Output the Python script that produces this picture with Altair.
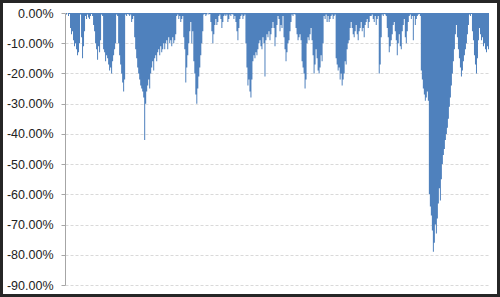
import altair as alt
import pandas as pd

# Drawdown values (in %), left to right
dd_part1 = [0, -0.5, 0, -1, -0.3,
            -5, -7, -6, -9, -11, -10, -12, -14, -13, -10,
            -0.5,
            -8, -15, -11, -6,
            -1, -2, -0.5, -1.5, -2, -1, -0.3, -1,
            -4, -6, -10, -12, -15.5, -11, -13, -9,
            -0.5, -1,
            -12, -13, -16, -14, -15, -17, -19, -18, -20, -16, -14, -12, -10,
            -0.5, -1,
            -10, -14, -17, -20, -23, -26, -22,
            -0.5, -1, -0.3, -0.5, -1, -0.5, -3, -2, -1]
dd_part2 = [-8, -12, -15, -18, -20, -22, -24, -25, -26, -28, -42, -30, -26, -24,
            -22, -25, -20,
            -18, -16, -19, -15, -14, -16, -13,
            -12, -14, -11, -13, -12, -10, -12,
            -10, -9, -12, -8, -10, -9, -11, -8, -10, -9, -7,
            -1, -0.5, -2, -1,
            -3, -2, -1,
            -8, -12, -23, -18, -14, -10, -6, -3,
            -10, -6,
            -16, -20, -27, -30, -25, -21, -18, -14, -10, -6]
dd_part3 = [-0.5, -0.3, -1, -0.5, 0, -0.5, -0.3,
            -3, -6, -10, -7, -4,
            -2, -4, -3, -1, -0.5, -2, -5, -3, -1, -0.5, -1, -0.5, -3, -2, -0.5, -1, -0.3, -0.5,
            -2, -1, -3,
            -6, -9, -5, -2,
            -1, -0.5, -2, -1, -0.5,
            -10, -18, -24, -22, -26, -28, -22,
            -16, -14, -15, -13, -14, -12,
            -10, -9, -11, -12, -8, -10, -21,
            -9, -7, -8, -6, -9, -7, -5, -3]
dd_part4 = [-5, -11, -8, -4, -1,
            -2, -6, -4, -5, -1,
            -8, -12, -16, -13, -10, -9, -6, -3,
            -0.5, -1, -0.3, -0.5,
            -5, -7, -9, -8, -7, -9,
            -16, -18, -20, -25, -22,
            -10, -8, -9, -7, -5,
            -9, -14, -20, -17, -12, -15, -19, -20,
            -18, -14, -16, -10,
            -1, -2, -0.5, -3, -1, -3, -2, -1, -0.5, -2, -1, -0.5]
dd_part5 = [-15, -17, -19, -18, -22, -20, -24, -22, -20, -16, -17, -12, -10, -9, -5,
            -3, -5, -7, -8, -6, -4, -7, -9, -6, -5, -3, -6, -5, -8, -4, -3, -2, -5, -3, -1,
            -1, -0.5, -2, -3, -1, -4, -2, -1,
            -20, -17, -8,
            -0.5, -1, -0.3, -0.5, -1,
            -5, -8, -13, -11, -9, -7, -4,
            -3, -6, -9, -14, -10, -7, -11, -12, -6, -4, -2,
            -8, -10, -6, -3,
            -1, -0.5, -2, -1, -9, -1, -4, -2, -1, -0.5, -0.3, -1]
dd_part6 = [-19, -22, -25, -27, -29, -28, -26, -29,
            -60, -64, -67,
            -72, -79, -76, -70,
            -73, -68, -63, -58, -62, -55,
            -50, -47, -45, -42,
            -40, -38, -35, -31, -28, -24, -20, -16, -12, -7, -4,
            -8, -12, -15, -18, -21, -19, -16, -14, -12, -10, -7, -4,
            -0.5, -1, -0.3,
            -6, -9, -14, -17, -20, -15, -9,
            -5, -7, -9, -8, -11, -10, -12, -13, -11, -12, -13]

y_ticks = [0, -0.1, -0.2, -0.3, -0.4, -0.5, -0.6, -0.7, -0.8, -0.9]

values = dd_part1 + dd_part2 + dd_part3 + dd_part4 + dd_part5 + dd_part6
df = pd.DataFrame({"i": list(range(len(values))), "dd": [v / 100 for v in values]})

W, H = 424, 272

area = alt.Chart(df).mark_area(color="#4F81BD", interpolate="step-after").encode(
    x=alt.X("i:Q", axis=None, scale=alt.Scale(domain=[0, len(values) - 1], nice=False, zero=False)),
    y=alt.Y(
        "dd:Q",
        title=None,
        scale=alt.Scale(domain=[-0.9, 0], nice=False),
        axis=alt.Axis(
            values=y_ticks,
            labelExpr="replace(format(datum.value, '.2%'), '\u2212', '-')",
            grid=True,
            gridColor="#d9d9d9",
            gridDash=[3, 2],
            gridWidth=1,
            domainColor="#a6a6a6",
            tickColor="#a6a6a6",
            tickSize=4,
            labelPadding=8,
            labelFont="Liberation Sans",
            labelFontSize=12.5,
            labelColor="#222222",
        ),
    ),
)

frame = alt.Chart(alt.Data(values=[{}])).mark_rect(
    filled=False, stroke="#262626", strokeWidth=3
).encode(
    x=alt.value(-63.5), x2=alt.value(433.5), y=alt.value(-11.5), y2=alt.value(282.5)
)

chart = alt.layer(area, frame).properties(
    width=W,
    height=H,
    autosize=alt.AutoSizeParams(type="none"),
    padding={"left": 65, "top": 13, "right": 11, "bottom": 12},
    background="white",
).configure_view(stroke=None)

chart.save("out.html", embed_options={"renderer": "svg", "actions": False})
